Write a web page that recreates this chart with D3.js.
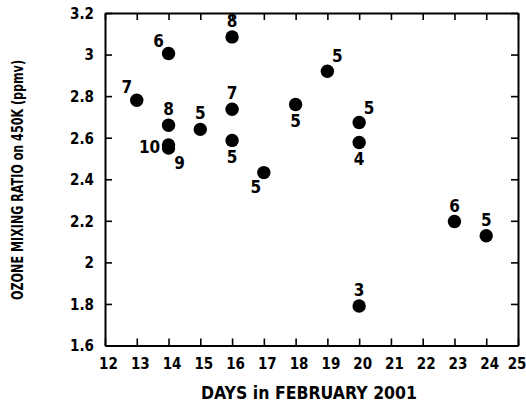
<!DOCTYPE html>
<html><head><meta charset="utf-8">
<script src="https://cdn.jsdelivr.net/npm/d3@7"></script>
<style>
body{margin:0;background:#fff;}
svg{display:block;}
text{font-family:"DejaVu Sans Condensed","DejaVu Sans",sans-serif;font-stretch:condensed;font-weight:bold;fill:#000;}
</style></head>
<body>
<svg id="c" width="526" height="404"></svg>
<script>
// Data
const days   = [13, 14, 14, 14, 14, 15, 16, 16, 16, 17, 18, 19, 20, 20, 20, 23, 24];
const ozone  = [2.78, 3.005, 2.66, 2.565, 2.55, 2.64, 3.085, 2.737, 2.587, 2.432, 2.76, 2.92, 2.673, 2.577, 1.79, 2.197, 2.128];
const labels = ["7", "6", "8", "10", "9", "5", "8", "7", "5", "5", "5", "5", "5", "4", "3", "6", "5"];
const labelSide = ["ul", "ul", "u", "l", "dr", "u", "u", "u", "d", "dl", "d", "ur", "ur", "d", "u", "u", "u"];
const xTicks = [12,13,14,15,16,17,18,19,20,21,22,23,24,25];
const yTicks = [1.6,1.8,2,2.2,2.4,2.6,2.8,3,3.2];
const xTitle = "DAYS in FEBRUARY 2001";
const yTitle = "OZONE MIXING RATIO on 450K (ppmv)";

const svg = d3.select("#c");
const L = 105, R = 518, T = 13, B = 345.5;
const x = d3.scaleLinear().domain([12, 25]).range([L, R]);
const y = d3.scaleLinear().domain([1.6, 3.2]).range([B, T]);

const side = {
  u:[0,-16], d:[0,16], ul:[-10,-13], ur:[10,-15], l:[-19,2], dr:[11,15], dl:[-8,14]
};

// axes
const gB = svg.append("g").attr("transform",`translate(0,${B})`)
  .call(d3.axisBottom(x).tickValues(xTicks).tickSizeInner(-7).tickSizeOuter(0).tickFormat(d=>d));
const gT = svg.append("g").attr("transform",`translate(0,${T})`)
  .call(d3.axisTop(x).tickValues(xTicks).tickSizeInner(-7).tickSizeOuter(0).tickFormat(""));
const gL = svg.append("g").attr("transform",`translate(${L},0)`)
  .call(d3.axisLeft(y).tickValues(yTicks).tickSizeInner(-7).tickSizeOuter(0).tickFormat(d=>String(d)));
const gR = svg.append("g").attr("transform",`translate(${R},0)`)
  .call(d3.axisRight(y).tickValues(yTicks).tickSizeInner(-7).tickSizeOuter(0).tickFormat(""));

[gB,gT,gL,gR].forEach(g=>{
  g.select(".domain").attr("stroke","#000").attr("stroke-width",2);
  g.selectAll(".tick line").attr("stroke","#000").attr("stroke-width",1.6);
  g.attr("font-family",null).attr("font-size",null);
});
gB.selectAll(".tick text").attr("y",0).attr("dy",null).attr("x",3)
  .attr("transform","translate(0,23)").style("font-size","15px");
gB.selectAll(".tick text").filter(d=>d===25).attr("text-anchor","end").attr("x",8);
gL.selectAll(".tick text").attr("x",-11).attr("dy","0.36em").style("font-size","15px");

// titles
svg.append("text").attr("x",309).attr("y",398.5).attr("text-anchor","middle")
  .attr("textLength",216).attr("lengthAdjust","spacingAndGlyphs")
  .style("font-size","18px").text(xTitle);
svg.append("text").attr("transform","translate(23,180) rotate(-90)").attr("text-anchor","middle")
  .attr("textLength",240).attr("lengthAdjust","spacingAndGlyphs")
  .style("font-size","15px").text(yTitle);

// points
svg.append("g").selectAll("circle").data(days).join("circle")
  .attr("cx",(d,i)=>x(d)).attr("cy",(d,i)=>y(ozone[i])).attr("r",6.7).attr("fill","#000");

svg.append("g").selectAll("text").data(labels).join("text")
  .attr("x",(d,i)=>x(days[i])+side[labelSide[i]][0])
  .attr("y",(d,i)=>y(ozone[i])+side[labelSide[i]][1])
  .attr("dy","0.36em").attr("text-anchor","middle")
  .style("font-size","17px").text(d=>d);
</script>
</body></html>
